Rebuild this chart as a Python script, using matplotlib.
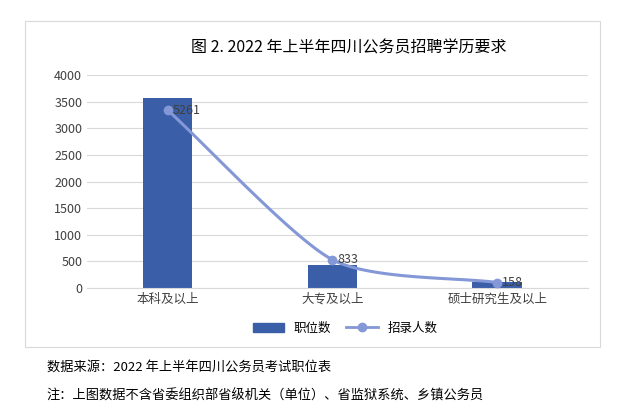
import matplotlib
matplotlib.use("Agg")
import matplotlib.pyplot as plt
import numpy as np

plt.rcParams['font.family'] = ['Noto Sans CJK SC', 'DejaVu Sans']

categories = ['本科及以上', '大专及以上', '硕士研究生及以上']
positions = [3570, 430, 110]
recruits = [5261, 833, 158]

fig = plt.figure(figsize=(6.22, 4.13), dpi=100)
fig.patches.append(plt.Rectangle((0.04, 0.16), 0.925, 0.79, transform=fig.transFigure,
                                 fill=False, edgecolor='#d9d9d9', lw=0.8))
ax = fig.add_axes([0.14, 0.303, 0.805, 0.515])
x = np.arange(len(categories))
ax.bar(x, positions, width=0.3, color='#3a5ea8', zorder=2, label='职位数')
ax.set_ylim(0, 4000)
ax.set_yticks(range(0, 4001, 500))
ax.set_xlim(-0.49, 2.55)
ax.set_xticks(x)
ax.set_xticklabels(categories, fontsize=9, color='#404040')
ax.tick_params(axis='y', labelsize=9, colors='#404040', length=0)
ax.tick_params(axis='x', length=0)
ax.grid(axis='y', color='#d9d9d9', lw=0.8, zorder=0)
for s in ['top', 'right', 'left']:
    ax.spines[s].set_visible(False)
ax.spines['bottom'].set_color('#d9d9d9')

ax2 = ax.twinx()
ax2.set_ylim(0, 6300)
ax2.axis('off')
# smooth curve through points (Catmull-Rom, reduced tension)
px = x.astype(float); py = np.array(recruits, float)
P = np.vstack([px, py]).T
P = np.vstack([2*P[0]-P[1], P, 2*P[-1]-P[-2]])
cx, cy = [], []
k = 0.35
for i in range(1, len(P)-2):
    t = np.linspace(0, 1, 40)[:, None]
    p0, p1, p2, p3 = P[i-1], P[i], P[i+1], P[i+2]
    m1 = k*(p2-p0); m2 = k*(p3-p1)
    h00 = 2*t**3-3*t**2+1; h10 = t**3-2*t**2+t; h01 = -2*t**3+3*t**2; h11 = t**3-t**2
    c = h00*p1 + h10*m1 + h01*p2 + h11*m2
    cx.extend(c[:, 0]); cy.extend(c[:, 1])
ax2.plot(cx, cy, color='#8497d6', lw=2.2, zorder=3)
ax2.plot(px, py, 'o', color='#8497d6', ms=6, zorder=4)
for xi, v in zip(px, recruits):
    ax2.text(xi + 0.03, v, str(v), fontsize=9, color='#404040', va='center', ha='left')

from matplotlib.lines import Line2D
from matplotlib.patches import Patch
h = [Patch(color='#3a5ea8'), Line2D([], [], color='#8497d6', lw=2, marker='o', ms=6)]
fig.legend(h, ['职位数', '招录人数'], loc='center', bbox_to_anchor=(0.555, 0.205), ncol=2,
           frameon=False, fontsize=9, handlelength=2.5, columnspacing=1.2)

fig.text(0.56, 0.885, '图 2. 2022 年上半年四川公务员招聘学历要求', ha='center', va='center', fontsize=11.5)
fig.text(0.075, 0.112, '数据来源：2022 年上半年四川公务员考试职位表', fontsize=9.5, style='italic', va='center')
fig.text(0.075, 0.04, '注：上图数据不含省委组织部省级机关（单位）、省监狱系统、乡镇公务员', fontsize=9.5, style='italic', va='center')
fig.savefig('out.png', dpi=100)
